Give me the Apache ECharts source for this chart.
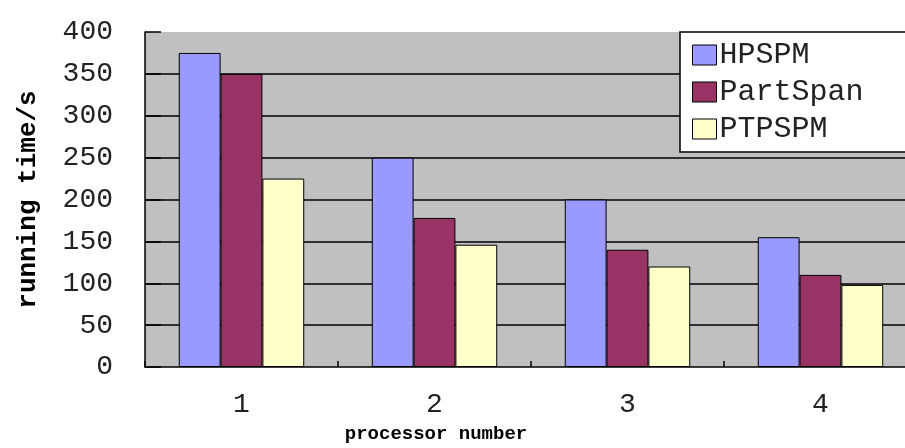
<!DOCTYPE html>
<html>
<head>
<meta charset="utf-8">
<script src="https://cdn.jsdelivr.net/npm/echarts@6/dist/echarts.min.js"></script>
<style>html,body{margin:0;padding:0;background:#fff;}#c{width:905px;height:448px;}</style>
</head>
<body>
<div id="c"></div>
<script>
const categories = ['1', '2', '3', '4'];
const hpspm = [375, 250, 200, 155];
const partSpan = [350, 178, 140, 110];
const ptpspm = [225, 146, 120, 98];
const seriesNames = ['HPSPM', 'PartSpan', 'PTPSPM'];
const yTicks = [0, 50, 100, 150, 200, 250, 300, 350, 400];

const chart = echarts.init(document.getElementById('c'), null, {renderer: 'canvas'});
const mono = 'Liberation Mono';
const barStyle = (color) => ({color: color, borderColor: '#000', borderWidth: 1});
chart.setOption({
  animation: false,
  backgroundColor: '#fff',
  grid: {left: 145, top: 32, width: 772, height: 335, outerBoundsMode: 'none', containLabel: false,
    show: true, backgroundColor: '#c0c0c0', borderWidth: 0},
  legend: {
    orient: 'vertical', left: 680, top: 32,
    padding: [8, 60, 8, 12],
    backgroundColor: '#fff', borderColor: '#000', borderWidth: 1.5,
    itemWidth: 24, itemHeight: 20, itemGap: 7,
    icon: 'rect',
    itemStyle: {borderColor: '#000', borderWidth: 1},
    textStyle: {fontFamily: mono, fontSize: 30, color: '#222', padding: [0, 0, 0, -2]},
    data: seriesNames
  },
  xAxis: {
    type: 'category', data: categories,
    name: 'processor number', nameLocation: 'middle', nameGap: 58,
    nameTextStyle: {fontFamily: mono, fontWeight: 'bold', fontSize: 19, color: '#000', padding: [0, 190, 0, 0]},
    axisLine: {lineStyle: {color: '#000', width: 1.5}},
    axisTick: {show: true, inside: true, length: 6, lineStyle: {color: '#000', width: 1.5}},
    axisLabel: {fontFamily: mono, fontSize: 28, color: '#222', margin: 24},
    splitLine: {show: false}
  },
  yAxis: {
    type: 'value', min: 0, max: 400, interval: 50,
    name: 'running time/s', nameLocation: 'middle', nameGap: 104,
    nameTextStyle: {fontFamily: mono, fontWeight: 'bold', fontSize: 26, color: '#000'},
    axisLine: {show: true, lineStyle: {color: '#000', width: 1.5}},
    axisTick: {show: true, inside: true, length: 16, lineStyle: {color: '#000', width: 1.5}},
    axisLabel: {fontFamily: mono, fontSize: 28, color: '#222', margin: 32,
      formatter: (v) => yTicks.includes(v) ? String(v) : ''},
    splitLine: {show: true, showMinLine: false, showMaxLine: false, lineStyle: {color: '#000', width: 1.5}}
  },
  series: [
    {name: seriesNames[0], type: 'bar', data: hpspm, barGap: '0%', barCategoryGap: '35%', itemStyle: barStyle('#9999ff')},
    {name: seriesNames[1], type: 'bar', data: partSpan, barGap: '0%', barCategoryGap: '35%', itemStyle: barStyle('#993366')},
    {name: seriesNames[2], type: 'bar', data: ptpspm, barGap: '0%', barCategoryGap: '35%', itemStyle: barStyle('#ffffcc')}
  ]
});
</script>
</body>
</html>
